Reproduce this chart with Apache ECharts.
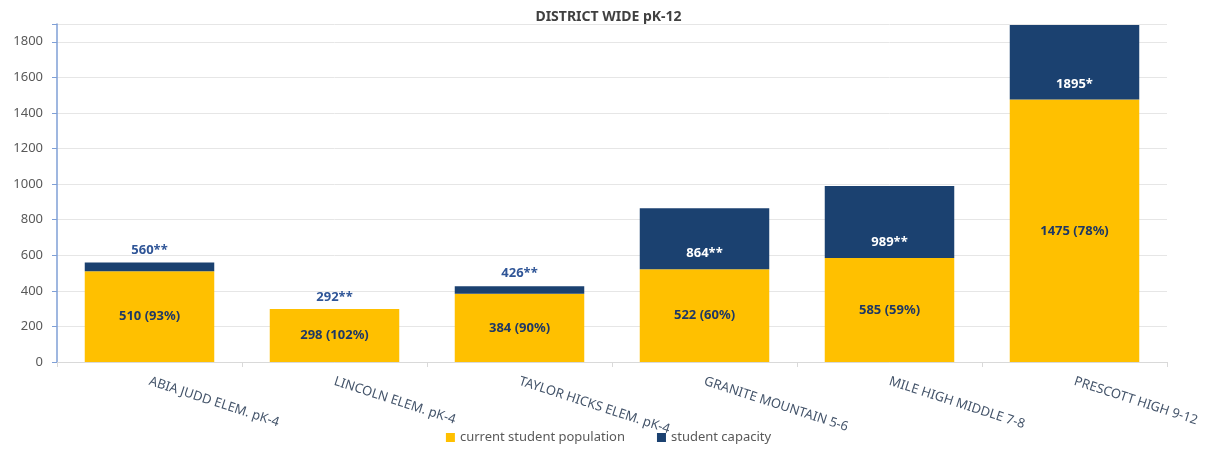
<!DOCTYPE html>
<html>
<head>
<meta charset="utf-8">
<script src="https://cdn.jsdelivr.net/npm/echarts@6/dist/echarts.min.js"></script>
<style>
  html, body { margin: 0; padding: 0; background: #fff; }
  #chart { width: 1217px; height: 450px; }
</style>
</head>
<body>
<div id="chart"></div>
<script>
  // data
  const schools = ['ABIA JUDD ELEM. pK-4', 'LINCOLN ELEM. pK-4', 'TAYLOR HICKS ELEM. pK-4',
    'GRANITE MOUNTAIN 5-6', 'MILE HIGH MIDDLE 7-8', 'PRESCOTT HIGH 9-12']
  const population = [510, 298, 384, 522, 585, 1475]
  const capacity = [560, 292, 426, 864, 989, 1895]
  const popLabels = ['510 (93%)', '298 (102%)', '384 (90%)', '522 (60%)', '585 (59%)', '1475 (78%)']
  const capLabels = ['560**', '292**', '426**', '864**', '989**', '1895*']
  const yTicks = [0, 200, 400, 600, 800, 1000, 1200, 1400, 1600, 1800]

  const yellow = '#ffc000'
  const navy = '#1b4170'
  const font = 'Noto Sans'

  // capacity drawn as the part stacked above the current population
  const gap = capacity.map((c, i) => c - population[i])
  // small remainders get their label above the bar, big ones inside the navy part
  const labelAbove = capacity.map((c, i) => c - population[i] < 100)

  let mychart = echarts.init(document.getElementById('chart'))
  let options = {
    animation: false,
    textStyle: { fontFamily: font },
    title: {
      text: 'DISTRICT WIDE pK-12',
      left: 'center',
      top: 5,
      textStyle: { fontSize: 14, fontWeight: 'bold', color: '#404040', fontFamily: font }
    },
    legend: {
      data: ['current student population', 'student capacity'],
      bottom: 1,
      left: 'center',
      itemWidth: 9,
      itemHeight: 9,
      itemGap: 32,
      icon: 'rect',
      textStyle: { fontSize: 13, color: '#595959', fontFamily: font }
    },
    grid: { left: 57, right: 50, top: 24, bottom: 88 },
    xAxis: {
      type: 'category',
      data: schools,
      axisLine: { lineStyle: { color: '#d9d9d9' } },
      axisTick: { show: true, length: 5, lineStyle: { color: '#d9d9d9' } },
      axisLabel: {
        rotate: -18,
        interval: 0,
        margin: 19,
        fontSize: 13,
        color: '#44546a',
        fontFamily: font
      }
    },
    yAxis: {
      type: 'value',
      min: 0,
      max: 1900,
      interval: 200,
      axisLine: { show: true, lineStyle: { color: '#7f9fd6', width: 1.5 } },
      axisTick: { show: true, length: 5, lineStyle: { color: '#7f9fd6' } },
      axisLabel: {
        margin: 14,
        fontSize: 13,
        color: '#595959',
        fontFamily: font,
        formatter: v => (yTicks.indexOf(v) >= 0 ? String(v) : '')
      },
      splitLine: { lineStyle: { color: '#e6e6e6' } }
    },
    series: [
      {
        name: 'current student population',
        type: 'bar',
        stack: 'total',
        barWidth: '70%',
        barGap: '-100%',
        itemStyle: { color: yellow },
        label: {
          show: true,
          position: 'inside',
          fontSize: 13,
          fontWeight: 'bold',
          color: '#1f3864',
          formatter: p => popLabels[p.dataIndex]
        },
        data: population
      },
      {
        name: 'student capacity',
        type: 'bar',
        stack: 'total',
        barWidth: '70%',
        barGap: '-100%',
        itemStyle: { color: navy },
        label: {
          show: true,
          position: 'insideBottom',
          distance: 9,
          fontSize: 13,
          fontWeight: 'bold',
          color: '#ffffff',
          formatter: p => (labelAbove[p.dataIndex] ? '' : capLabels[p.dataIndex])
        },
        data: gap
      },
      {
        // invisible bars only to carry the capacity labels that sit above the bar
        name: 'capacity label',
        type: 'bar',
        barWidth: '70%',
        barGap: '-100%',
        silent: true,
        z: 1,
        itemStyle: { color: 'rgba(0,0,0,0)' },
        label: {
          show: true,
          position: 'top',
          distance: 6,
          fontSize: 13,
          fontWeight: 'bold',
          color: '#2f5597',
          formatter: p => (labelAbove[p.dataIndex] ? capLabels[p.dataIndex] : '')
        },
        data: capacity
      }
    ]
  }
  mychart.setOption(options)
</script>
</body>
</html>
